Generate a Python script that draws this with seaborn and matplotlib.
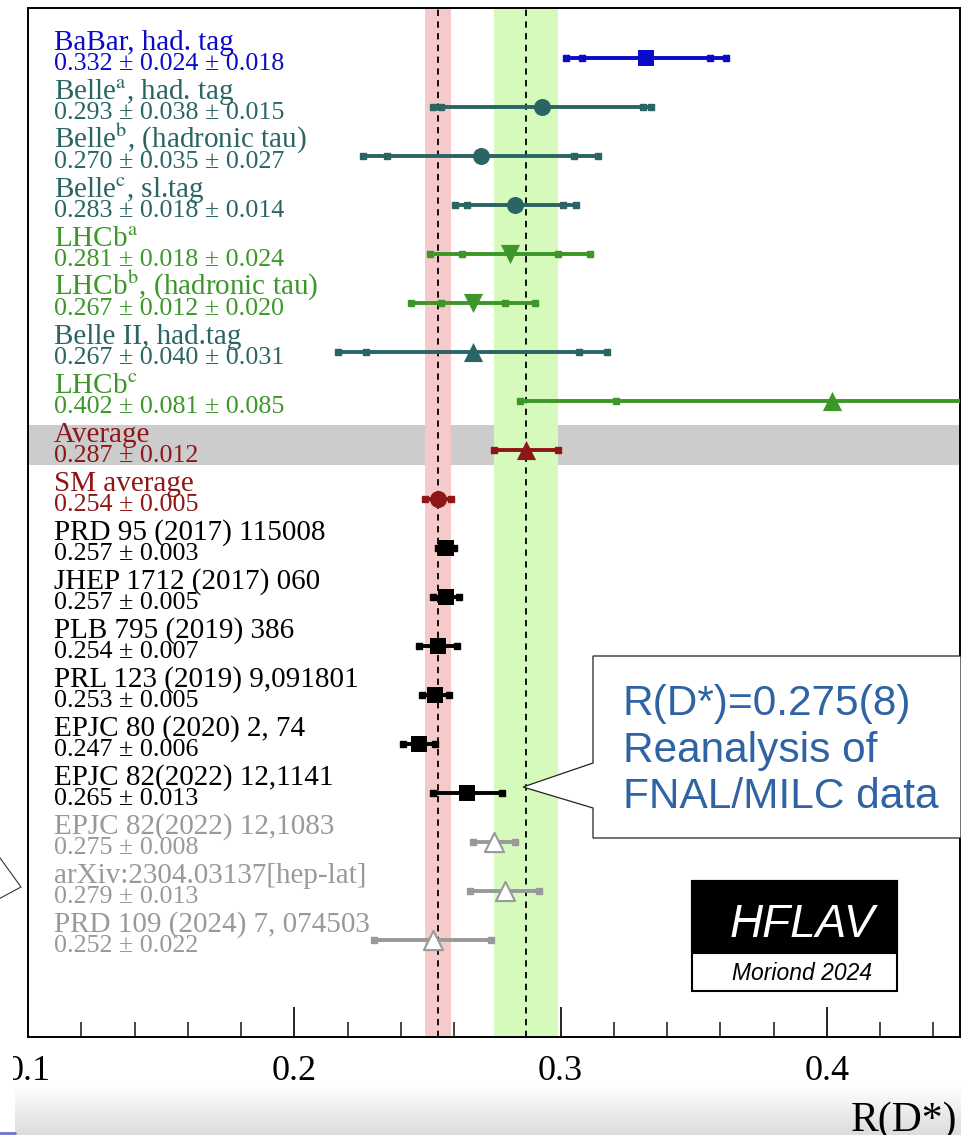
import numpy as np
import pandas as pd
import seaborn as sns
import matplotlib.pyplot as plt
from matplotlib.patches import Rectangle, Polygon
from matplotlib.lines import Line2D
from matplotlib.ticker import MultipleLocator, FormatStrFormatter
from matplotlib.colors import LinearSegmentedColormap

# measurements / predictions of R(D*), top to bottom
names = ['BaBar, had. tag', r'Belle$^{\mathrm{a}}$, had. tag', r'Belle$^{\mathrm{b}}$, (hadronic tau)',
         r'Belle$^{\mathrm{c}}$, sl.tag', r'LHCb$^{\mathrm{a}}$', r'LHCb$^{\mathrm{b}}$, (hadronic tau)',
         'Belle II, had.tag', r'LHCb$^{\mathrm{c}}$', 'Average', 'SM average',
         'PRD 95 (2017) 115008', 'JHEP 1712 (2017) 060', 'PLB 795 (2019) 386',
         'PRL 123 (2019) 9,091801', 'EPJC 80 (2020) 2, 74', 'EPJC 82(2022) 12,1141',
         'EPJC 82(2022) 12,1083', 'arXiv:2304.03137[hep-lat]', 'PRD 109 (2024) 7, 074503']
values = [0.332, 0.293, 0.270, 0.283, 0.281, 0.267, 0.267, 0.402, 0.287, 0.254,
          0.257, 0.257, 0.254, 0.253, 0.247, 0.265, 0.275, 0.279, 0.252]
stat_err = [0.024, 0.038, 0.035, 0.018, 0.018, 0.012, 0.040, 0.081, 0.012, 0.005,
            0.003, 0.005, 0.007, 0.005, 0.006, 0.013, 0.008, 0.013, 0.022]
syst_err = [0.018, 0.015, 0.027, 0.014, 0.024, 0.020, 0.031, 0.085, 0, 0,
            0, 0, 0, 0, 0, 0, 0, 0, 0]

BLUE, TEAL, GREEN, RED, GREY = '#0a0ac8', '#2a6464', '#3c9628', '#8e1616', '#999999'
row_colors = [BLUE, TEAL, TEAL, TEAL, GREEN, GREEN, TEAL, GREEN, RED, RED,
              'black', 'black', 'black', 'black', 'black', 'black', GREY, GREY, GREY]
row_markers = ['s', 'o', 'o', 'o', 'v', 'v', '^', '^', '^', 'o',
               's', 's', 's', 's', 's', 's', '^', '^', '^']
open_marker = [False] * 16 + [True] * 3

W, H = 962, 1135


def fx(px):
    return px / W


def fy(py):
    return 1 - py / H


sns.set_theme(style='white')
plt.rcParams['font.family'] = ['Liberation Serif', 'DejaVu Serif']
plt.rcParams['mathtext.fontset'] = 'stix'

fig = plt.figure(figsize=(W / 100, H / 100), dpi=100)
fig.patch.set_facecolor('white')
ax = fig.add_axes([fx(28), fy(1037), (960 - 28) / W, (1037 - 8) / H])

sm_i = names.index('SM average')
avg_i = names.index('Average')

# bands
ax.axhspan(avg_i - 0.5, avg_i + 0.3, color='#cccccc', lw=0, zorder=0.5)
ax.axvspan(values[sm_i] - stat_err[sm_i], values[sm_i] + stat_err[sm_i], color='#f6caca', lw=0, zorder=1)
ax.axvspan(values[avg_i] - stat_err[avg_i], values[avg_i] + stat_err[avg_i], color='#d6fabc', lw=0, zorder=1)
ax.axvline(values[sm_i], color='black', ls=(0, (3.5, 3)), lw=1.3, zorder=2)
ax.axvline(values[avg_i], color='black', ls=(0, (3.5, 3)), lw=1.3, zorder=2)

for i, (v, s, sy, c, m, op) in enumerate(zip(values, stat_err, syst_err, row_colors, row_markers, open_marker)):
    tot = np.hypot(s, sy)
    ax.plot([v - tot, v + tot], [i, i], color=c, lw=2.8, solid_capstyle='butt', zorder=3)
    caps = [v - tot, v + tot] + ([v - s, v + s] if sy > 0 else [])
    ax.plot(caps, [i] * len(caps), ls='none', marker='s', ms=4.5, color=c, zorder=3)

    size = {'s': 130, 'o': 150, 'v': 190, '^': 190}[m]
    sns.scatterplot(x=[v], y=[i], marker=m, s=size, color='white' if op else c,
                    edgecolor=c, linewidth=1.5 if op else 0, ax=ax, zorder=5)

    if sy > 0:
        vtxt = f'{v:.3f} ± {s:.3f} ± {sy:.3f}'
    else:
        vtxt = f'{v:.3f} ± {s:.3f}'
    ax.text(0.1098, i - 0.165, names[i], color=c, fontsize=21, ha='left', va='baseline', zorder=6)
    ax.text(0.1098, i + 0.245, vtxt, color=c, fontsize=18.7, ha='left', va='baseline', zorder=6)

ax.set_xlim(0.1, 0.45)
ax.set_ylim(19.98, -1.02)
ax.set_xlabel('')
ax.set_ylabel('')
ax.set_yticks([])
ax.xaxis.set_major_locator(MultipleLocator(0.1))
ax.xaxis.set_minor_locator(MultipleLocator(0.02))
ax.xaxis.set_major_formatter(FormatStrFormatter('%.1f'))
ax.tick_params(axis='x', which='major', direction='in', length=21.6, width=1.2,
               labelsize=26, pad=13, bottom=True, top=False, colors='black')
ax.tick_params(axis='x', which='minor', direction='in', length=10.8, width=1.2,
               bottom=True, top=False)
for side in ['left', 'bottom', 'top', 'right']:
    ax.spines[side].set_color('black')
    ax.spines[side].set_linewidth(1.4)
ax.set_facecolor('white')

# callout for the reanalysis
pts = [(593, 656), (961, 656), (961, 838), (593, 838), (593, 808), (523, 787), (593, 763)]
fig.add_artist(Polygon([(fx(x), fy(y)) for x, y in pts], closed=True, fc='white', ec='#222222',
                       lw=0.9, transform=fig.transFigure, zorder=5))
for txt, base in [('R(D*)=0.275(8)', 715), ('Reanalysis of', 762), ('FNAL/MILC data', 808)]:
    fig.text(fx(623), fy(base), txt, fontsize=30.5, color='#2f63a3', family=['Liberation Sans'],
             ha='left', va='baseline', zorder=6)

# partial pointer at the left edge
fig.add_artist(Line2D([fx(-5), fx(21), fx(-5)], [fy(851), fy(887), fy(901)], color='#333333',
                      lw=0.8, transform=fig.transFigure))

# HFLAV logo
fig.add_artist(Rectangle((fx(692), fy(991)), (897 - 692) / W, (991 - 881) / H, fc='white', ec='black',
                         lw=1.5, transform=fig.transFigure, zorder=5))
fig.add_artist(Rectangle((fx(692), fy(953)), (897 - 692) / W, (953 - 881) / H, fc='black', ec='black',
                         lw=1.5, transform=fig.transFigure, zorder=5))
fig.text(fx(802), fy(937), 'HFLAV', color='white', fontsize=33, style='italic', family=['Liberation Sans'],
         ha='center', va='baseline', zorder=6)
fig.text(fx(802), fy(980), 'Moriond 2024', color='black', fontsize=16.5, style='italic',
         family=['Liberation Sans'], ha='center', va='baseline', zorder=6)

# screenshot footer
gax = fig.add_axes([fx(15), 0, 1 - fx(15), 50 / H], zorder=-1)
cmap = LinearSegmentedColormap.from_list('fade', ['white', '#dcdcdc'])
gax.imshow(np.linspace(0, 1, 50)[:, None], cmap=cmap, aspect='auto')
gax.axis('off')
fig.add_artist(Rectangle((0, fy(1085)), fx(13), (1085 - 1045) / H, fc='white', ec='none',
                         transform=fig.transFigure, zorder=8))
fig.add_artist(Line2D([0, fx(15)], [fy(1133), fy(1133)], color='#7070d0', lw=2, transform=fig.transFigure))

fig.text(fx(957), fy(1131), 'R(D*)', fontsize=30, color='black', ha='right', va='baseline', zorder=6)

fig.savefig('out.png', dpi=100)
